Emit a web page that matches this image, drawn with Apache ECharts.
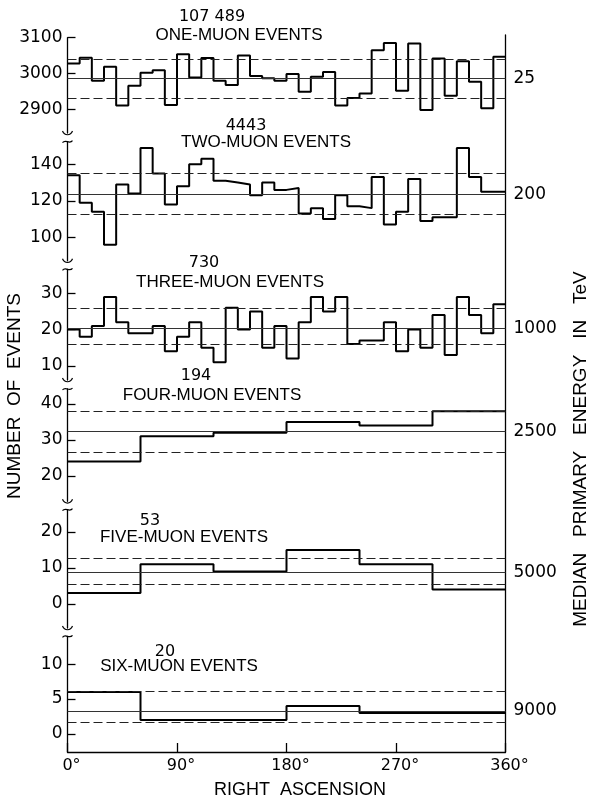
<!DOCTYPE html>
<html>
<head>
<meta charset="utf-8">
<script src="https://cdn.jsdelivr.net/npm/echarts@6/dist/echarts.min.js"></script>
<style>
html, body { margin: 0; padding: 0; background: #fff; }
#chart { width: 592px; height: 798px; }
</style>
</head>
<body>
<div id="chart"></div>
<script>
// counts per right-ascension bin (10 deg bins for 1-3 muons, 60 deg bins above)
var oneMuon = [3028, 3044, 2980, 3019, 2911, 2966, 3002, 3009, 2912, 3054, 2989, 3043,
               2980, 2968, 3050, 2993, 2987, 2980, 2999, 2949, 2991, 3004, 2911, 2932,
               2944, 3065, 3085, 2952, 3084, 2898, 3042, 2938, 3034, 2977, 2903, 3047];
var twoMuon = [134, 119, 114, 96, 129, 124, 149, 135, 118, 128, 140, 143,
               131, 130, 129, 123, 130, 126, 127, 113, 116, 110, 123, 117,
               116, 133, 107, 114, 132, 109, 111, 111, 149, 133, 125, 125];
var threeMuon = [20, 18, 21, 29, 22, 19, 19, 21, 14, 18, 22, 15,
                 11, 26, 20, 25, 15, 21, 12, 22, 29, 25, 29, 16,
                 17, 17, 22, 14, 20, 15, 24, 13, 29, 24, 19, 27];
var fourMuon = [24, 31, 32, 35, 34, 38];
var fiveMuon = [3, 11, 9, 15, 11, 4];
var sixMuon = [6, 2, 2, 4, 3, 3];

var totals = ['107 489', '4443', '730', '194', '53', '20'];
var panelNames = ['ONE-MUON EVENTS', 'TWO-MUON EVENTS', 'THREE-MUON EVENTS',
                  'FOUR-MUON EVENTS', 'FIVE-MUON EVENTS', 'SIX-MUON EVENTS'];
var energies = ['25', '200', '1000', '2500', '5000', '9000'];
var meanLines = [2986, 123.4, 20.3, 32.3, 8.8, 3.3];
var upperLines = [3041, 135, 26, 38, 12.6, 6.1];
var lowerLines = [2931, 112.5, 16, 26.7, 5.6, 1.6];
var yTicks = [[2900, 3000, 3100], [100, 120, 140], [10, 20, 30],
              [20, 30, 40], [0, 10, 20], [0, 5, 10]];

var panels = [oneMuon, twoMuon, threeMuon, fourMuon, fiveMuon, sixMuon];

// layout, px
var plotLeft = 67.5, plotWidth = 438;
var panelTop = [37.7, 141.7, 269.3, 389, 509.7, 636.3];
var panelBottom = [133, 260.7, 380, 501.3, 628, 752];
var yMin = [2834, 87.2, 6.1, 12.9, -6.7, -2.6];
var yMax = [3100, 152.4, 36.6, 44.2, 26.2, 14];
var totalPos = [[212, 17], [246, 126], [204, 263], [196, 376], [150, 521], [165, 652]];
var namePos = [[239, 35], [266, 142], [230, 282], [212, 395], [184, 537], [179, 666]];

var font = 'Liberation Sans';
var numFont = 'DejaVu Sans';
var ink = '#000';

function steps(counts) {
    var w = 360 / counts.length;
    var pts = counts.map(function (c, i) { return [i * w, c]; });
    pts.push([360, counts[counts.length - 1]]);
    return pts;
}

var grids = [], xAxes = [], yAxes = [], series = [], graphics = [];

panels.forEach(function (counts, i) {
    grids.push({
        left: plotLeft, width: plotWidth,
        top: panelTop[i], height: panelBottom[i] - panelTop[i],
        outerBoundsMode: 'none', containLabel: false
    });
    var last = i === panels.length - 1;
    xAxes.push({
        type: 'value', gridIndex: i, min: 0, max: 360, interval: 90,
        show: last,
        axisLine: { show: true, onZero: false, lineStyle: { color: ink, width: 1.3 } },
        axisTick: { show: true, inside: true, length: 9, lineStyle: { color: ink, width: 1.3 } },
        axisLabel: {
            show: true, margin: 6, color: ink, fontSize: 16, fontFamily: numFont,
            showMinLabel: true, showMaxLabel: true, padding: [0, 0, 0, 8],
            formatter: function (v) { return v + '°'; }
        },
        splitLine: { show: false }
    });
    yAxes.push({
        type: 'value', gridIndex: i, position: 'left', min: yMin[i], max: yMax[i],
        splitLine: { show: false },
        axisLine: { show: true, onZero: false, lineStyle: { color: ink, width: 1.3 } },
        axisTick: { show: true, inside: true, length: 8, customValues: yTicks[i],
                    lineStyle: { color: ink, width: 1.3 } },
        axisLabel: { customValues: yTicks[i], margin: 5, color: ink, fontSize: 17, fontFamily: numFont,
                     formatter: function (v) { return String(v); } }
    });
    yAxes.push({
        type: 'value', gridIndex: i, position: 'right', min: yMin[i], max: yMax[i],
        splitLine: { show: false },
        axisLine: { show: false, onZero: false },
        axisTick: { show: false },
        axisLabel: {
            customValues: [meanLines[i]], margin: 8, color: ink, fontSize: 17, fontFamily: numFont,
            formatter: function () { return energies[i]; }
        }
    });
    series.push({
        type: 'line', xAxisIndex: i, yAxisIndex: 2 * i,
        step: 'end', symbol: 'none',
        data: steps(counts),
        lineStyle: { color: ink, width: 2 },
        markLine: {
            silent: true, symbol: ['none', 'none'], label: { show: false },
            data: [
                { yAxis: meanLines[i], lineStyle: { color: '#333', width: 1, type: 'solid' } },
                { yAxis: upperLines[i], lineStyle: { color: '#222', width: 1, type: [9, 4] } },
                { yAxis: lowerLines[i], lineStyle: { color: '#222', width: 1, type: [9, 4] } }
            ]
        }
    });

    // panel captions
    graphics.push({
        type: 'text', x: totalPos[i][0], y: totalPos[i][1],
        style: { text: totals[i], align: 'center', verticalAlign: 'middle',
                 font: '16px "' + numFont + '"', fill: ink }
    });
    graphics.push({
        type: 'text', x: namePos[i][0], y: namePos[i][1],
        style: { text: panelNames[i], align: 'center', verticalAlign: 'middle',
                 font: '17px "' + font + '"', fill: ink }
    });

    // axis break marks
    if (i < panels.length - 1) {
        var yb = panelBottom[i];
        graphics.push({
            type: 'bezierCurve', silent: true,
            shape: { x1: plotLeft - 5, y1: yb - 2, cpx1: plotLeft - 3, cpy1: yb + 3,
                     cpx2: plotLeft + 3, cpy2: yb + 3, x2: plotLeft + 5, y2: yb - 2 },
            style: { stroke: ink, lineWidth: 1.2, fill: null }
        });
    }
    if (i > 0) {
        var yt = panelTop[i];
        graphics.push({
            type: 'bezierCurve', silent: true,
            shape: { x1: plotLeft - 5, y1: yt + 1, cpx1: plotLeft - 2, cpy1: yt - 3,
                     cpx2: plotLeft + 2, cpy2: yt + 3, x2: plotLeft + 5, y2: yt - 1 },
            style: { stroke: ink, lineWidth: 1.2, fill: null }
        });
    }
});

// full-height frame on the right
grids.push({ left: plotLeft, width: plotWidth, top: 35, height: 752 - 35,
             outerBoundsMode: 'none', containLabel: false });
xAxes.push({ type: 'value', gridIndex: 6, min: 0, max: 1, show: false });
yAxes.push({
    type: 'value', gridIndex: 6, position: 'right', min: 0, max: 1,
    splitLine: { show: false },
    axisLine: { show: true, onZero: false, lineStyle: { color: ink, width: 1.3 } },
    axisTick: { show: false }, axisLabel: { show: false }
});

graphics.push({
    type: 'text', x: 300, y: 790,
    style: { text: 'RIGHT  ASCENSION', align: 'center', verticalAlign: 'middle',
             font: '18px "' + font + '"', fill: ink }
});
graphics.push({
    type: 'text', x: 15, y: 396, rotation: Math.PI / 2,
    style: { text: 'NUMBER  OF  EVENTS', align: 'center', verticalAlign: 'middle',
             font: '19px "' + font + '"', fill: ink }
});
graphics.push({
    type: 'text', x: 581, y: 449, rotation: Math.PI / 2,
    style: { text: 'MEDIAN   PRIMARY   ENERGY   IN   TeV', align: 'center', verticalAlign: 'middle',
             font: '19px "' + font + '"', fill: ink }
});

var chart = echarts.init(document.getElementById('chart'));
chart.setOption({
    animation: false,
    backgroundColor: '#fff',
    grid: grids,
    xAxis: xAxes,
    yAxis: yAxes,
    series: series,
    graphic: graphics
});
</script>
</body>
</html>
